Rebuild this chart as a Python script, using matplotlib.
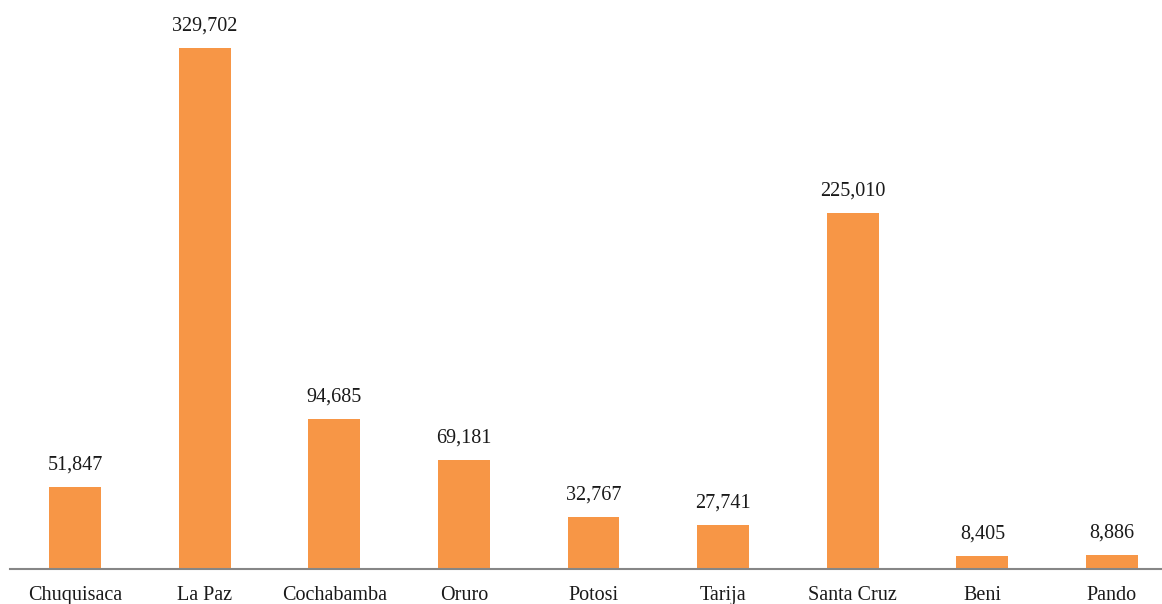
import matplotlib
matplotlib.use("Agg")
import matplotlib.pyplot as plt

categories = ["Chuquisaca", "La Paz", "Cochabamba", "Oruro", "Potosi", "Tarija", "Santa Cruz", "Beni", "Pando"]
values = [51847, 329702, 94685, 69181, 32767, 27741, 225010, 8405, 8886]
value_labels = ["51,847", "329,702", "94,685", "69,181", "32,767", "27,741", "225,010", "8,405", "8,886"]

plt.rcParams['font.family'] = ['Liberation Serif', 'DejaVu Serif']

W, H = 1162, 604
fig = plt.figure(figsize=(W / 100, H / 100), dpi=100)
ax_left, ax_right = 10, 1162
ax_bottom, ax_top = 569, 0
ax = fig.add_axes([ax_left / W, 1 - ax_bottom / H, (ax_right - ax_left) / W, (ax_bottom - ax_top) / H])

x = list(range(len(categories)))
bars = ax.bar(x, values, width=0.40, color="#F79646", zorder=2)

px = 129.6
ax.set_xlim(-(75 - ax_left) / px, 8 + (ax_right - 1112) / px)
ax.set_ylim(0, 329702 * (ax_bottom - ax_top) / 521)

for xi, v, lab in zip(x, values, value_labels):
    ax.annotate(lab, (xi, v), xytext=(0, 9), textcoords="offset points",
                ha="center", va="bottom", fontsize=14.5, color="#1a1a1a")

ax.set_xticks(x)
ax.set_xticklabels(categories, fontsize=14.5, color="#1a1a1a")
ax.tick_params(axis="x", length=0, pad=12)
ax.set_yticks([])
for s in ["top", "right", "left"]:
    ax.spines[s].set_visible(False)
ax.spines["bottom"].set_color("#868686")
ax.spines["bottom"].set_linewidth(1.5)

fig.savefig("out.png", dpi=100)
